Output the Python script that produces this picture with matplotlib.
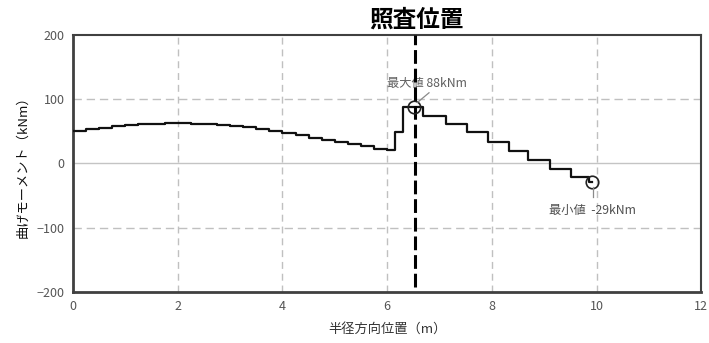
import matplotlib
matplotlib.use("Agg")
import matplotlib.pyplot as plt
import matplotlib.transforms as mtransforms

plt.rcParams['font.family'] = ['Noto Sans CJK JP', 'DejaVu Sans']

# step edges (m) and bending moment (kNm) on each step
x_edges = [0.0, 0.25, 0.5, 0.75, 1.0, 1.25, 1.5, 1.75, 2.0, 2.25, 2.5, 2.75,
           3.0, 3.25, 3.5, 3.75, 4.0, 4.25, 4.5, 4.75, 5.0, 5.25, 5.5, 5.75,
           6.0, 6.15, 6.31, 6.69, 7.13, 7.52, 7.92, 8.32, 8.70, 9.12, 9.52, 9.85]
moment = [50.3, 52.9, 55.5, 58.0, 59.6, 60.7, 61.8, 62.8, 62.8, 61.6, 61.0, 60.0,
          58.8, 56.5, 54.0, 50.3, 47.2, 43.6, 40.0, 36.9, 33.2, 29.6, 26.5, 22.9,
          20.2, 48.7, 88.0, 74.0, 62.0, 49.0, 34.0, 20.0, 6.0, -8.0, -21.0, -29.0]
x_end = 9.91

check_x = 6.53
max_pt = (6.52, 88)
min_pt = (9.91, -29)
max_label = "最大値 88kNm"
min_label = "最小値  -29kNm"

xticks = [0, 2, 4, 6, 8, 10, 12]
yticks = [-200, -100, 0, 100, 200]

fig = plt.figure(figsize=(7.09, 3.43), dpi=100)
ax = fig.add_axes([0.103, 0.149, 0.886, 0.749])

ax.set_xlim(0, 12)
ax.set_ylim(-200, 200)

# grid
for xv in [2, 4, 6, 8, 10]:
    ax.axvline(xv, color='#c0c0c0', lw=1.0, ls=(0, (5, 3.5)), zorder=1)
for yv in [100, -100]:
    ax.axhline(yv, color='#c0c0c0', lw=1.0, ls=(0, (6, 3.5)), zorder=1)
ax.axhline(0, color='#c4c4c4', lw=1.0, zorder=1)

# moment line
xs = x_edges + [x_end]
ys = moment + [moment[-1]]
ax.step(xs, ys, where='post', color='#111111', lw=1.6, zorder=3)

# check position
ax.plot([check_x, check_x], [-193, 200], color='black', lw=2.2,
        ls=(0, (4.5, 1.6)), zorder=4, clip_on=False)
trans = mtransforms.blended_transform_factory(ax.transData, ax.transAxes)
ax.text(check_x + 0.03, 1.012, "照査位置", transform=trans, ha='center', va='bottom',
        fontsize=17, fontweight='bold', color='black')

# max / min markers
ax.plot(*max_pt, marker='o', ms=9, mfc='none', mec='#222222', mew=1.2, zorder=5)
ax.plot(*min_pt, marker='o', ms=9, mfc='none', mec='#222222', mew=1.2, zorder=5)
ax.plot([6.58, 6.8], [95, 110], color='#8a8a8a', lw=0.9, zorder=5)
ax.text(6.76, 124, max_label, ha='center', va='center', fontsize=8.8, color='#606060')
ax.plot([9.94, 9.94], [-37, -53], color='#8a8a8a', lw=0.9, zorder=5)
ax.text(9.92, -73, min_label, ha='center', va='center', fontsize=8.8, color='#505050')

# axes styling
ax.set_xticks(xticks)
ax.set_yticks(yticks)
ax.tick_params(length=0, labelsize=9, labelcolor='#555555', pad=6)
for s in ax.spines.values():
    s.set_color('#404040')
    s.set_linewidth(1.5)
ax.spines['left'].set_linewidth(2.0)
ax.spines['bottom'].set_linewidth(2.0)

ax.set_xlabel("半径方向位置（m）", fontsize=9.5, color='#333333', labelpad=7)
ax.set_ylabel("曲げモーメント（kNm）", fontsize=9.5, color='#111111', labelpad=5)

fig.savefig("out.png", dpi=100)
